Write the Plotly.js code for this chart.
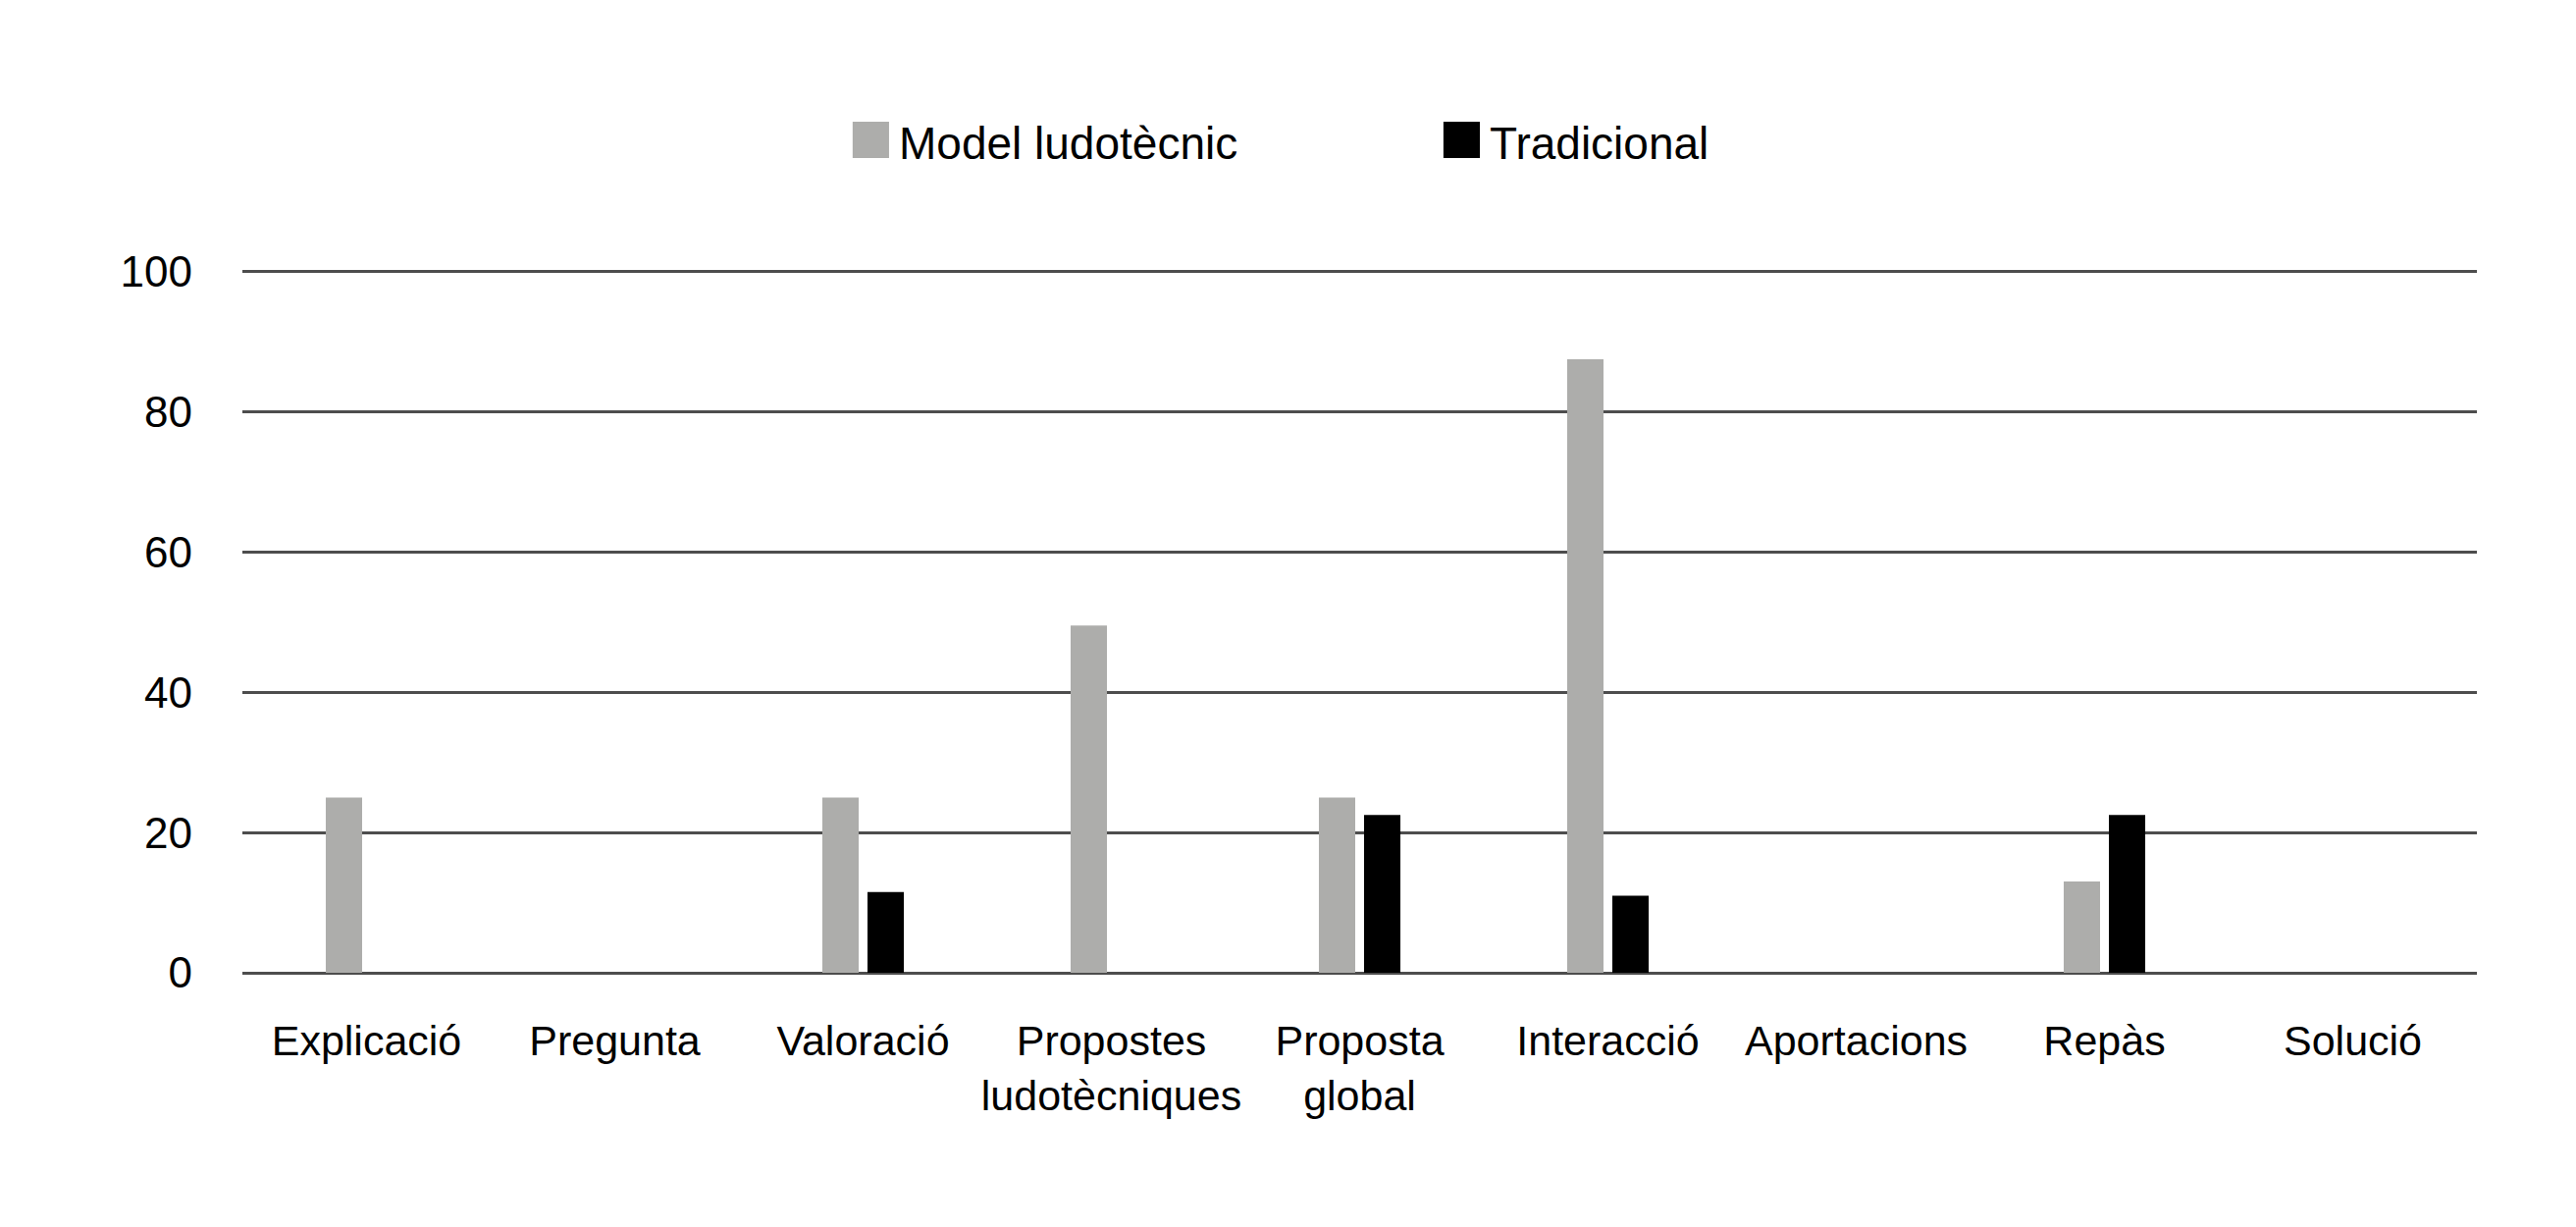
<!DOCTYPE html>
<html>
<head>
<meta charset="utf-8">
<script src="https://cdn.plot.ly/plotly-3.0.1.min.js"></script>
<style>html,body{margin:0;padding:0;background:#fff;}#chart{width:2625px;height:1250px;}</style>
</head>
<body>
<div id="chart"></div>
<script>
// ---- data ----
var categories = ['Explicació', 'Pregunta', 'Valoració', 'Propostes ludotècniques', 'Proposta global', 'Interacció', 'Aportacions', 'Repàs', 'Solució'];
var tickLabels = ['Explicació', 'Pregunta', 'Valoració', 'Propostes<br>ludotècniques', 'Proposta<br>global', 'Interacció', 'Aportacions', 'Repàs', 'Solució'];
var seriesNames = ['Model ludotècnic', 'Tradicional'];
var modelLudotecnic = [25, 0, 25, 49.5, 25, 87.5, 0, 13, 0];
var tradicional = [0, 0, 11.5, 0, 22.5, 11, 0, 22.5, 0];
var yTicks = [0, 20, 40, 60, 80, 100];

var colors = ['#adadab', '#000000'];
var fontFamily = '"Liberation Sans", Arial, Helvetica, sans-serif';

var traces = [
  {type: 'bar', name: seriesNames[0], x: categories, y: modelLudotecnic,
   marker: {color: colors[0], line: {width: 0}}, hoverinfo: 'x+y+name'},
  {type: 'bar', name: seriesNames[1], x: categories, y: tradicional,
   marker: {color: colors[1], line: {width: 0}}, hoverinfo: 'x+y+name'}
];

// custom legend (large square keys)
var legendKeyX = [0.2731, 0.5375];
var keyW = 0.0163, keyTop = 1.2075, keyBot = 1.156;
var shapes = [], annotations = [];
for (var i = 0; i < seriesNames.length; i++) {
  shapes.push({type: 'rect', xref: 'paper', yref: 'paper',
    x0: legendKeyX[i], x1: legendKeyX[i] + keyW, y0: keyBot, y1: keyTop,
    fillcolor: colors[i], line: {width: 0}});
  annotations.push({xref: 'paper', yref: 'paper', x: legendKeyX[i] + keyW + 0.0035, y: (keyTop + keyBot) / 2 - 0.005,
    xanchor: 'left', yanchor: 'middle', showarrow: false, text: seriesNames[i],
    font: {family: fontFamily, size: 46, color: '#000'}});
}

var layout = {
  width: 2625, height: 1250,
  paper_bgcolor: '#ffffff', plot_bgcolor: '#ffffff',
  margin: {l: 247, r: 101, t: 273, b: 259, pad: 0},
  font: {family: fontFamily, color: '#000'},
  showlegend: false,
  barmode: 'group', bargap: 0.636, bargroupgap: 0.196,
  xaxis: {
    type: 'category', tickvals: categories, ticktext: tickLabels,
    showgrid: false, showline: false, zeroline: false,
    ticks: '', ticklabelstandoff: 40,
    tickfont: {family: fontFamily, size: 43, color: '#000'},
    fixedrange: true
  },
  yaxis: {
    range: [0, 100.5], tickvals: yTicks, ticktext: yTicks.map(String),
    showgrid: true, gridcolor: '#4d4d4d', gridwidth: 3,
    zeroline: true, zerolinecolor: '#4d4d4d', zerolinewidth: 3,
    showline: false, ticks: '', ticklabelstandoff: 50,
    tickfont: {family: fontFamily, size: 44, color: '#000'},
    fixedrange: true
  },
  shapes: shapes,
  annotations: annotations
};

Plotly.newPlot('chart', traces, layout, {displayModeBar: false, staticPlot: true});
</script>
</body>
</html>
